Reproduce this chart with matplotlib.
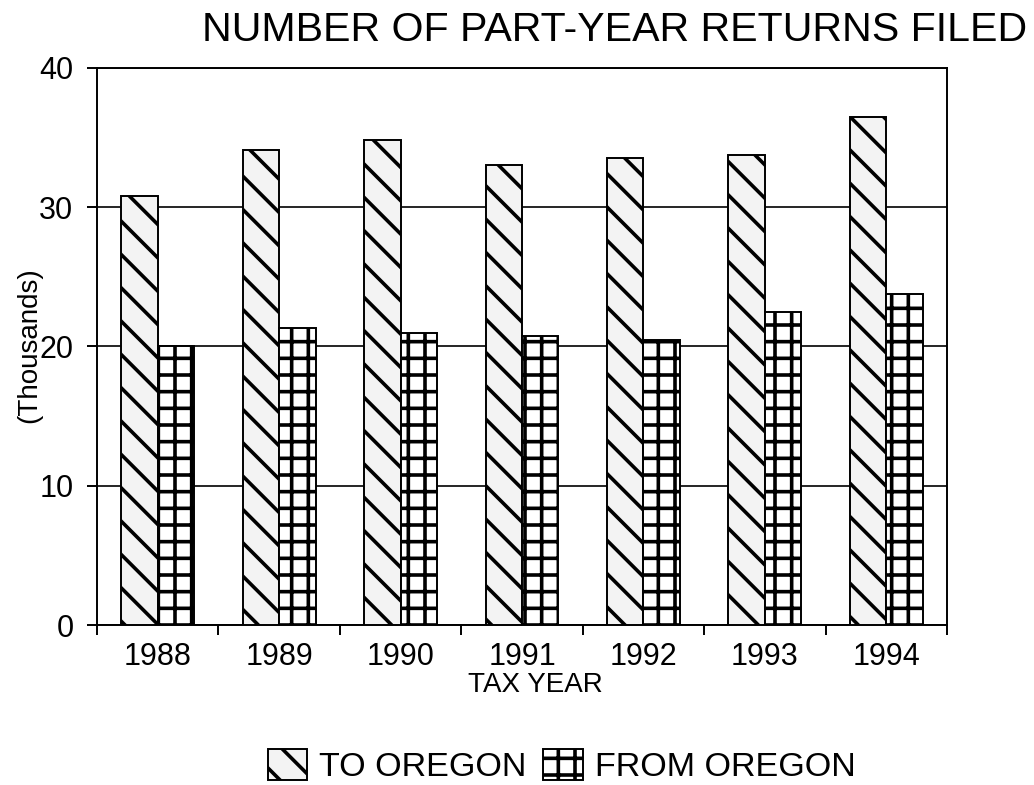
import numpy as np
import matplotlib
matplotlib.use("Agg")
import matplotlib.pyplot as plt

# values (thousands of returns)
years = ["1988", "1989", "1990", "1991", "1992", "1993", "1994"]
to_oregon = [30.8, 34.1, 34.8, 33.0, 33.5, 33.75, 36.5]
from_oregon = [20.0, 21.3, 21.0, 20.75, 20.5, 22.5, 23.8]

plt.rcParams['font.family'] = ['Liberation Sans', 'DejaVu Sans']
plt.rcParams['hatch.color'] = 'black'
plt.rcParams['hatch.linewidth'] = 1.3

# high dpi so the hatch spacing comes out as wide as in the reference
fig = plt.figure(figsize=(5.17, 3.925), dpi=200)
ax = fig.add_axes([0.0938, 0.2038, 0.8221, 0.7096])

x = np.arange(len(years))
w = 0.3
ax.bar(x - w / 2, to_oregon, width=w, facecolor='#f3f3f3', edgecolor='black',
       linewidth=0.7, hatch='\\\\', label='TO OREGON', zorder=3)
ax.bar(x + w / 2, from_oregon, width=w, facecolor='white', edgecolor='black',
       linewidth=0.7, hatch='++', label='FROM OREGON', zorder=3)

ax.set_xlim(-0.5, len(years) - 0.5)
ax.set_ylim(0, 40)
ax.set_yticks([0, 10, 20, 30, 40])
ax.yaxis.grid(True, color='black', linewidth=0.6, zorder=0)
ax.set_axisbelow(True)

ax.set_xticks(x)
ax.set_xticklabels(years, fontsize=11)
ax.set_xticks(np.arange(len(years) + 1) - 0.5, minor=True)
ax.tick_params(axis='x', which='major', length=0, pad=6)
ax.tick_params(axis='x', which='minor', direction='out', length=3.5, width=0.7)
ax.tick_params(axis='y', direction='out', length=3.5, width=0.7, labelsize=11, pad=5)
for s in ax.spines.values():
    s.set_linewidth(0.7)

ax.set_xlabel('TAX YEAR', fontsize=10, labelpad=0)
ax.xaxis.set_label_coords(0.516, -0.085)
fig.text(0.028, 0.56, '(Thousands)', rotation=90, fontsize=10,
         ha='center', va='center')
fig.text(0.594, 0.962, 'NUMBER OF PART-YEAR RETURNS FILED', fontsize=14.8,
         ha='center', va='center')

fig.legend(loc='center', bbox_to_anchor=(0.543, 0.024), ncol=2, frameon=False,
           fontsize=12.3, handlelength=1.15, handleheight=1.0,
           handletextpad=0.35, columnspacing=0.5, borderpad=0)

fig.savefig('out.png', dpi=200)
